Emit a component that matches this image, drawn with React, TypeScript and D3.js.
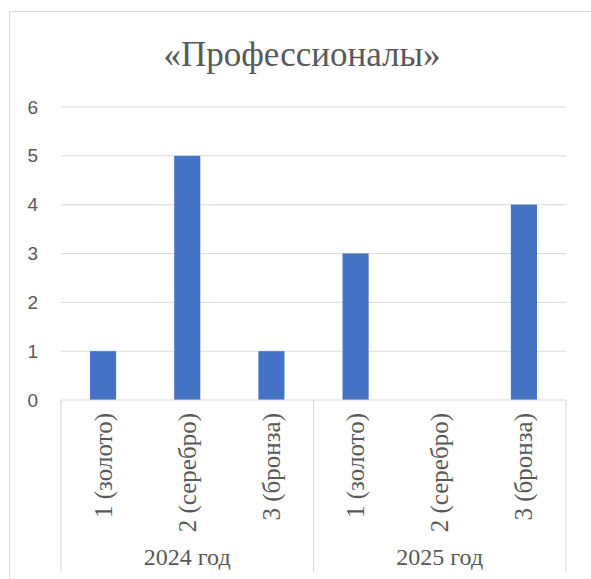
import React from "react";
import * as d3 from "d3";

const groups = ["2024 год", "2025 год"];
const places = ["1 (золото)", "2 (серебро)", "3 (бронза)"];
const values2024 = [1, 5, 1];
const values2025 = [3, 0, 4];
const yTicks = [0, 1, 2, 3, 4, 5, 6];
const title = "«Профессионалы»";

export default function App() {
  const W = 591;
  const H = 579;
  const left = 61;
  const right = 566;
  const top = 107;
  const bottom = 400;
  const axisBottom = 572;

  const rows = [
    ...places.map((p, i) => ({ group: groups[0], place: p, value: values2024[i] })),
    ...places.map((p, i) => ({ group: groups[1], place: p, value: values2025[i] })),
  ];
  const keys = rows.map((_, i) => String(i));

  const x = d3.scaleBand<string>().domain(keys).range([left, right]).padding(0);
  const y = d3.scaleLinear().domain([0, 6]).range([bottom, top]);
  const gx = d3.scaleBand<string>().domain(groups).range([left, right]).padding(0);
  const barW = x.bandwidth() * 0.31;

  const grey = "#595959";
  const line = "#d9d9d9";
  const serif = "'Liberation Serif', 'Times New Roman', serif";

  return (
    <svg width={W} height={H} style={{ position: "absolute", left: 0, top: 0 }}>
      <rect x={0} y={0} width={W} height={H} fill="#fff" />
      <rect x={9.5} y={11.5} width={W + 20} height={H + 20} fill="none" stroke={line} strokeWidth={1} />
      <text x={302} y={66} textAnchor="middle" fontFamily={serif} fontSize={35} fill={grey}>
        {title}
      </text>
      {yTicks.filter((t) => t > 0).map((t) => (
        <line key={t} x1={left} x2={right} y1={y(t)} y2={y(t)} stroke={line} strokeWidth={1} />
      ))}
      {yTicks.map((t) => (
        <text key={"l" + t} x={38} y={y(t)} textAnchor="end" dominantBaseline="central"
          fontFamily="'Liberation Sans', sans-serif" fontSize={19} fill={grey}>
          {t}
        </text>
      ))}
      {rows.map((r, i) => (
        <rect key={"b" + i} x={(x(String(i)) as number) + x.bandwidth() / 2 - barW / 2}
          y={y(r.value)} width={barW} height={y(0) - y(r.value)} fill="#4472C4" />
      ))}
      <line x1={left} x2={right} y1={bottom} y2={bottom} stroke={line} strokeWidth={1} />
      {[left, (gx(groups[1]) as number), right].map((xx, i) => (
        <line key={"v" + i} x1={xx} x2={xx} y1={bottom} y2={axisBottom} stroke={line} strokeWidth={1} />
      ))}
      {rows.map((r, i) => {
        const cx = (x(String(i)) as number) + x.bandwidth() / 2;
        return (
          <text key={"t" + i} transform={`translate(${cx},413) rotate(-90)`} textAnchor="end"
            dominantBaseline="central" fontFamily={serif} fontSize={25} fill={grey}>
            {r.place}
          </text>
        );
      })}
      {groups.map((g) => (
        <text key={g} x={(gx(g) as number) + gx.bandwidth() / 2} y={565} textAnchor="middle"
          fontFamily={serif} fontSize={24} fill={grey}>
          {g}
        </text>
      ))}
    </svg>
  );
}
